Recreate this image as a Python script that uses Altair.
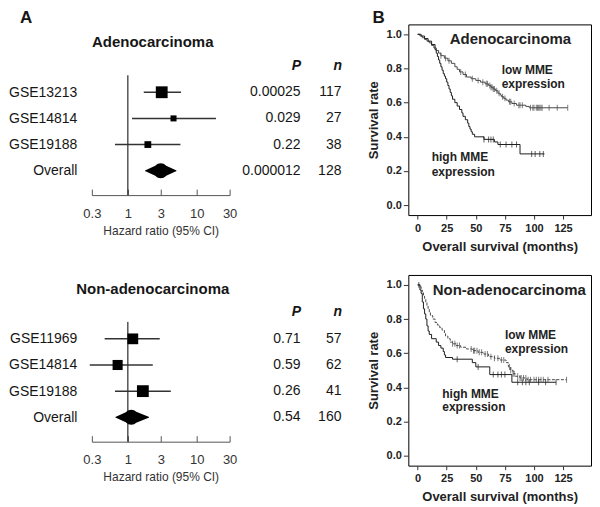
import altair as alt
import pandas as pd

# ---------------- Panel A : forest plots (hazard ratios) ----------------
adeno_studies = ["GSE13213", "GSE14814", "GSE19188"]
adeno_hr = [3.1, 4.6, 1.95]
adeno_lo = [1.7, 1.15, 0.65]
adeno_hi = [5.9, 19.0, 5.8]
adeno_weight = [1.0, 0.26, 0.33]
adeno_overall = [1.8, 3.0, 5.0]          # lower, estimate, upper
adeno_p = ["0.00025", "0.029", "0.22", "0.000012"]
adeno_n = ["117", "27", "38", "128"]

non_studies = ["GSE11969", "GSE14814", "GSE19188"]
non_hr = [1.18, 0.71, 1.65]
non_lo = [0.46, 0.28, 0.65]
non_hi = [2.9, 2.3, 4.2]
non_weight = [0.83, 0.73, 1.0]
non_overall = [0.67, 1.12, 2.0]
non_p = ["0.71", "0.59", "0.26", "0.54"]
non_n = ["57", "62", "41", "160"]

hr_ticks = [0.3, 1, 3, 10, 30]

# ---------------- Panel B : Kaplan-Meier curves ----------------
# Adenocarcinoma, low MME expression
ad_low_t = [0, 2, 4, 6, 8, 10, 12, 14, 16, 18, 20, 23, 26, 29, 32, 34, 36, 39, 42, 46, 50, 54, 58,
            61, 63, 65, 67, 69, 71, 72, 74, 76, 78, 81, 85, 93, 96, 129]
ad_low_s = [1.0, 0.99, 0.98, 0.97, 0.96, 0.95, 0.935, 0.92, 0.905, 0.89, 0.875, 0.86, 0.845, 0.83,
            0.81, 0.795, 0.78, 0.765, 0.75, 0.74, 0.73, 0.72, 0.71, 0.70, 0.69, 0.68, 0.67, 0.655,
            0.645, 0.635, 0.625, 0.615, 0.605, 0.595, 0.585, 0.578, 0.57, 0.57]
ad_low_cens_t = [20, 24, 27, 37, 41, 47, 52, 56, 59, 60, 62, 63, 64, 65, 66, 68, 70, 73, 75, 79, 80,
                 83, 87, 88, 90, 97, 99, 100, 102, 103, 104, 105, 106, 107, 113, 120, 129]
ad_low_cens_s = [0.875, 0.86, 0.845, 0.78, 0.765, 0.74, 0.73, 0.72, 0.71, 0.71, 0.70, 0.69, 0.69,
                 0.68, 0.68, 0.67, 0.655, 0.635, 0.625, 0.605, 0.605, 0.595, 0.585, 0.585, 0.585,
                 0.57, 0.57, 0.57, 0.57, 0.57, 0.57, 0.57, 0.57, 0.57, 0.57, 0.57, 0.57]
# Adenocarcinoma, high MME expression
ad_high_t = [0, 3, 6, 9, 12, 15, 16, 17, 18, 19, 20, 21, 22, 23, 24, 25, 26, 27, 28, 29, 30, 32, 34,
             36, 38, 39, 41, 43, 44, 45, 46, 47, 49, 57, 66, 69, 88, 109]
ad_high_s = [1.0, 0.99, 0.975, 0.96, 0.94, 0.91, 0.89, 0.87, 0.85, 0.83, 0.81, 0.79, 0.77, 0.755,
             0.74, 0.72, 0.70, 0.68, 0.66, 0.64, 0.62, 0.60, 0.58, 0.56, 0.54, 0.52, 0.50, 0.48,
             0.46, 0.445, 0.43, 0.415, 0.40, 0.385, 0.37, 0.355, 0.30, 0.30]
ad_high_cens_t = [57, 61, 63, 65, 71, 76, 81, 85, 98, 101, 105, 108]
ad_high_cens_s = [0.385, 0.385, 0.385, 0.385, 0.355, 0.355, 0.355, 0.355, 0.30, 0.30, 0.30, 0.30]

# Non-adenocarcinoma, low MME expression
na_low_t = [0, 2, 3, 4, 5, 6, 7, 8, 9, 10, 11, 13, 15, 17, 19, 21, 23, 24, 26, 28, 30, 33, 37, 42,
            47, 52, 57, 61, 66, 71, 76, 78, 80, 82, 84, 88, 94, 128]
na_low_s = [1.0, 0.99, 0.97, 0.955, 0.94, 0.92, 0.90, 0.88, 0.86, 0.84, 0.82, 0.80, 0.78, 0.765,
            0.75, 0.735, 0.715, 0.70, 0.685, 0.665, 0.655, 0.645, 0.635, 0.625, 0.615, 0.605,
            0.595, 0.58, 0.57, 0.56, 0.545, 0.52, 0.50, 0.48, 0.465, 0.455, 0.445, 0.445]
na_low_cens_t = [30, 32, 34, 36, 46, 48, 49, 51, 53, 55, 58, 60, 63, 66, 69, 72, 74, 79, 80, 82, 83,
                 86, 88, 89, 91, 93, 95, 97, 100, 102, 104, 106, 108, 112, 128]
na_low_cens_s = [0.655, 0.655, 0.645, 0.645, 0.625, 0.615, 0.615, 0.615, 0.605, 0.605, 0.595, 0.595,
                 0.58, 0.57, 0.57, 0.56, 0.56, 0.52, 0.50, 0.48, 0.48, 0.465, 0.455, 0.455, 0.455,
                 0.455, 0.445, 0.445, 0.445, 0.445, 0.445, 0.445, 0.445, 0.445, 0.445]
# Non-adenocarcinoma, high MME expression
na_high_t = [0, 2, 3, 4, 5, 6, 7, 8, 9, 10, 12, 16, 18, 20, 22, 23, 24, 30, 47, 50, 62, 81, 119]
na_high_s = [1.0, 0.97, 0.95, 0.90, 0.86, 0.83, 0.80, 0.76, 0.73, 0.71, 0.685, 0.665, 0.645, 0.63,
             0.61, 0.59, 0.575, 0.565, 0.545, 0.52, 0.475, 0.43, 0.43]
na_high_cens_t = [1, 34, 52, 65, 69, 72, 75, 86, 90, 93, 96, 104, 110, 119]
na_high_cens_s = [1.0, 0.565, 0.52, 0.475, 0.475, 0.475, 0.475, 0.43, 0.43, 0.43, 0.43, 0.43, 0.43, 0.43]

FONT = "Liberation Sans"
INK = "#161616"

# ---------------- forest plot builder ----------------
FW, FH = 138, 120


def forest(title, studies, hr, lo, hi, wt, ov, pv, nn):
    rows = studies + ["Overall"]
    est = pd.DataFrame({"row": studies, "hr": hr, "lo": lo, "hi": hi, "w": wt})
    dia = pd.DataFrame({"row": ["Overall"] * 3, "x": ov, "half": [0, 1, 0], "k": [0, 1, 2]})
    tab = pd.DataFrame({"row": rows * 2, "col": ["P"] * len(rows) + ["n"] * len(rows),
                        "val": pv + nn})
    ref = pd.DataFrame({"x": [1.0]})
    tk = pd.DataFrame({"x": hr_ticks})

    xs = alt.Scale(type="log", domain=[0.3, 30], nice=False)
    ys = alt.Scale(type="point", padding=0.79, align=0.41)
    yax = alt.Axis(title=None, domain=False, ticks=False, tickSize=0, labelFontSize=14,
                   labelColor=INK, labelPadding=15)
    Y = alt.Y("row:N", sort=rows, scale=ys, axis=yax)

    ref_rule = alt.Chart(ref).mark_rule(color="black", strokeWidth=1).encode(
        x=alt.X("x:Q", scale=xs, axis=None))
    ci = alt.Chart(est).mark_rule(color="#333", strokeWidth=1.5).encode(
        x=alt.X("lo:Q", scale=xs, axis=alt.Axis(
            orient="bottom", values=hr_ticks, format="~g", title="Hazard ratio (95% CI)",
            titleFontSize=12, titleFontWeight="normal", titleColor="#333", labelFontSize=13,
            labelColor="#333", domainColor="#555", ticks=False, tickSize=0, labelPadding=12,
            titlePadding=5, grid=False, labelFlush=False, labelOverlap=False)),
        x2="hi:Q", y=Y)
    box = alt.Chart(est).mark_square(color="black", opacity=1).encode(
        x=alt.X("hr:Q", scale=xs, axis=None), y=Y,
        size=alt.Size("w:Q", scale=alt.Scale(domain=[0, 1], range=[0, 140]), legend=None))
    dmd = alt.Chart(dia).mark_trail(color="black").encode(
        x=alt.X("x:Q", scale=xs, axis=None), y=Y, order="k:Q",
        size=alt.Size("half:Q", scale=alt.Scale(domain=[0, 1], range=[0, 15]), legend=None))
    tks = alt.Chart(tk).mark_point(opacity=0).encode(
        x=alt.X("x:Q", scale=xs, axis=alt.Axis(
            orient="top", offset=-FH, values=hr_ticks, labels=False, domain=False,
            tickSize=6, tickColor="#555", title=None, grid=False)))
    plot = alt.layer(ref_rule, ci, box, dmd, tks).resolve_scale(size="independent")

    table = alt.Chart(tab).mark_text(align="right", baseline="middle", fontSize=14,
                                     color=INK).encode(
        x=alt.X("col:N", scale=alt.Scale(type="point", domain=["P", "n"], range=[209, 250],
                                         padding=0),
                axis=alt.Axis(orient="top", title=None, domain=False, ticks=False, tickSize=0,
                              labelAngle=0, labelAlign="right", labelFontSize=14,
                              labelFontWeight="bold", labelFontStyle="italic", labelColor=INK,
                              labelPadding=3)),
        y=Y, text="val:N")

    return alt.layer(plot, table).resolve_scale(x="independent").properties(
        width=FW, height=FH,
        title=alt.TitleParams(title, fontSize=15, fontWeight="bold", anchor="middle",
                              frame="group", dx=-8, offset=8, color=INK))


# ---------------- Kaplan-Meier builder ----------------
KW, KH = 183, 191
kxs = alt.Scale(domain=[-8, 149], nice=False, zero=False)
kys = alt.Scale(domain=[-0.058, 1.058], nice=False, zero=False)
kxa = alt.Axis(values=[0, 25, 50, 75, 100, 125], title="Overall survival (months)",
               titleFontSize=13, titleFontWeight="bold", titleColor="#222", labelFontSize=11,
               labelFontWeight="bold", labelColor="#222", tickSize=4, tickColor="#333",
               labelPadding=3, titlePadding=7, domain=False, grid=False, labelFlush=False)
kya = alt.Axis(values=[0, 0.2, 0.4, 0.6, 0.8, 1.0], format=".1f", title="Survival rate",
               titleFontSize=13, titleFontWeight="bold", titleColor="#222", labelFontSize=11,
               labelFontWeight="bold", labelColor="#222", tickSize=5, tickColor="#333",
               labelPadding=2, titlePadding=6, domain=False, grid=False, labelFlush=False)


def km(lt, ls, ht, hs, lct, lcs, hct, hcs, notes, low_dash):
    X = alt.X("t:Q", scale=kxs, axis=kxa)
    Yk = alt.Y("s:Q", scale=kys, axis=kya)
    low = pd.DataFrame({"t": lt, "s": ls})
    high = pd.DataFrame({"t": ht, "s": hs})
    lowc = pd.DataFrame({"t": lct, "s": lcs})
    highc = pd.DataFrame({"t": hct, "s": hcs})
    nt = pd.DataFrame(notes, columns=["label", "t", "s", "fs"])

    low_kw = dict(interpolate="step-after", color="#4a4a4a", strokeWidth=1)
    if low_dash:
        low_kw["strokeDash"] = low_dash
    l1 = alt.Chart(low).mark_line(**low_kw).encode(X, Yk)
    l2 = alt.Chart(high).mark_line(interpolate="step-after", color="#1e1e1e",
                                   strokeWidth=1).encode(X, Yk)
    c1 = alt.Chart(lowc).mark_tick(orient="vertical", size=6, thickness=1,
                                   color="#4a4a4a").encode(X, Yk)
    c2 = alt.Chart(highc).mark_tick(orient="vertical", size=6, thickness=1,
                                    color="#1e1e1e").encode(X, Yk)
    tx = alt.Chart(nt).mark_text(align="left", baseline="middle", fontWeight="bold",
                                 color="#222").encode(
        X, Yk, text="label:N", size=alt.Size("fs:Q", scale=None, legend=None))
    return alt.layer(l1, l2, c1, c2, tx).properties(
        width=KW, height=KH, view=alt.ViewBackground(stroke="black", strokeWidth=1))


fa = forest("Adenocarcinoma", adeno_studies, adeno_hr, adeno_lo, adeno_hi, adeno_weight,
            adeno_overall, adeno_p, adeno_n)
fb = forest("Non-adenocarcinoma", non_studies, non_hr, non_lo, non_hi, non_weight,
            non_overall, non_p, non_n)

ka = km(ad_low_t, ad_low_s, ad_high_t, ad_high_s, ad_low_cens_t, ad_low_cens_s,
        ad_high_cens_t, ad_high_cens_s,
        [["Adenocarcinoma", 27.6, 0.971, 15], ["low MME", 72.2, 0.793, 12],
         ["expression", 72.2, 0.712, 12], ["high MME", 12.1, 0.28, 12],
         ["expression", 12.1, 0.193, 12]], None)
kb = km(na_low_t, na_low_s, na_high_t, na_high_s, na_low_cens_t, na_low_cens_s,
        na_high_cens_t, na_high_cens_s,
        [["Non-adenocarcinoma", 13, 0.971, 15], ["low MME", 75, 0.706, 12],
         ["expression", 75, 0.623, 12], ["high MME", 21.2, 0.362, 12],
         ["expression", 21.2, 0.284, 12]], [3, 1.5])

header = alt.Chart(pd.DataFrame({"a": [0]})).mark_point(opacity=0).properties(width=FW, height=10)

left = alt.vconcat(alt.vconcat(header, fa, spacing=0), fb, spacing=44).properties(
    title=alt.TitleParams("A", anchor="start", fontSize=17, fontWeight="bold", dx=12, offset=-3,
                          color=INK))
right = alt.vconcat(ka, kb, spacing=20).properties(
    title=alt.TitleParams("B", anchor="start", fontSize=17, fontWeight="bold", dx=6, offset=-3,
                          color=INK))

chart = alt.hconcat(left, right, spacing=24).properties(
    padding=0, background="white"
).configure(font=FONT).configure_view(stroke="transparent")

chart.save("out.html", embed_options={"renderer": "svg", "actions": False})
